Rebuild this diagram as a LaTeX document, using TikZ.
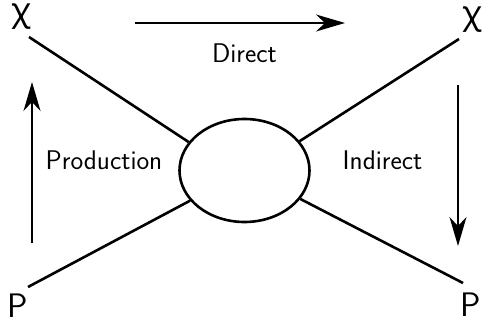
\documentclass[tikz,border=0pt]{standalone}
\usepackage{fontspec}
\newfontfamily\greekfont{Noto Sans}
\usetikzlibrary{arrows.meta,shapes.geometric}
\begin{document}
\begin{tikzpicture}[x=1pt,y=-1pt,
  leg/.style={line width=2.6pt},
  flow/.style={line width=1.4pt,-{Stealth[length=29pt,width=17pt,inset=9pt]}},
  particle/.style={inner sep=0pt,font=\fontsize{34}{37}\selectfont\sffamily},
  chilabel/.style={inner sep=0pt,font=\fontsize{33}{36}\selectfont\greekfont},
  lbl/.style={inner sep=0pt,font=\fontsize{27}{30}\selectfont\sffamily}]
\useasboundingbox (0,0) rectangle (482,326);
% labels
\node[chilabel] (chiL) at (21,17) {χ};
\node[chilabel] (chiR) at (472,20) {χ};
\node[particle] (PL) at (18,306) {P};
\node[particle] (PR) at (471,305) {P};
% blob
\node[ellipse,draw,line width=2.6pt,minimum width=130pt,minimum height=103pt,inner sep=0pt] (blob) at (244.5,170.5) {};
% leg end points
\coordinate (a1) at (29,37);
\coordinate (a2) at (459,39);
\coordinate (a3) at (28,287);
\coordinate (a4) at (463,283);
\draw[leg] (a1) -- (blob.153);
\draw[leg] (a2) -- (blob.28);
\draw[leg] (a3) -- (blob.209);
\draw[leg] (a4) -- (blob.333);
% arrows
\coordinate (d1) at (135,23);
\coordinate (d2) at (345,23);
\coordinate (p1) at (32,243);
\coordinate (p2) at (32,82);
\coordinate (i1) at (458,85);
\coordinate (i2) at (458,246);
\draw[flow] (d1) -- (d2);
\draw[flow] (p1) -- (p2);
\draw[flow] (i1) -- (i2);
\node[lbl] (direct) at (244.5,53.5) {Direct};
\node[lbl] (prod) at (104,160) {Production};
\node[lbl] (indir) at (382.5,160) {Indirect};
\end{tikzpicture}
\end{document}
